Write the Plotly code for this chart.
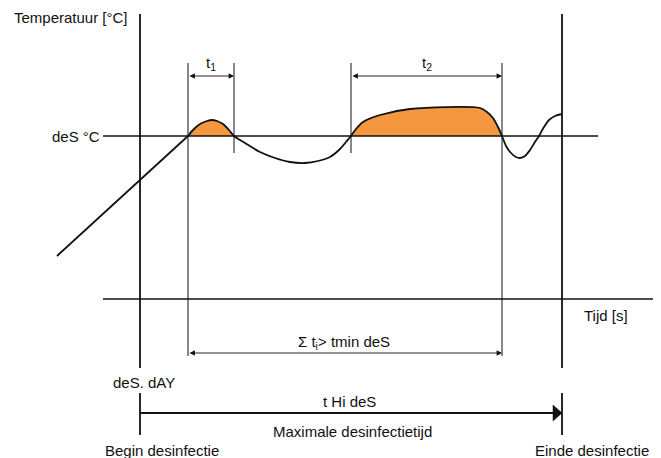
import plotly.graph_objects as go

# ---- data (time t, temperature T; schematic units) ----
ramp_t = [-83, 48]
ramp_T = [43, 163]

curve_t = [48, 53, 60, 67, 72, 77, 83, 89, 94,
           105, 120, 135, 150, 165, 178, 190, 200, 206, 211,
           216, 223, 240, 270, 340, 347, 353, 358, 362,
           366, 371, 376, 380, 385, 390, 395, 399, 404, 409, 415, 422]
curve_T = [163, 169, 175, 178, 179, 178, 175, 169, 163,
           156, 147, 141, 137, 136, 138, 142, 150, 157, 163,
           170, 177, 184, 190, 191, 187, 181, 172, 163,
           153, 146, 142, 141, 143, 149, 157, 163, 172, 179, 183, 185]

des_T = 163            # disinfection temperature level
t_begin = 0
t1_start, t1_end = 48, 94
t2_start, t2_end = 211, 362
t_end = 422

labels = {
    "temp": "Temperatuur [°C]",
    "des": "deS °C",
    "time": "Tijd [s]",
    "t1": "t<sub>1</sub>",
    "t2": "t<sub>2</sub>",
    "sum": "Σ t<sub>i</sub>> tmin deS",
    "day": "deS. dAY",
    "thi": "t Hi deS",
    "max": "Maximale desinfectietijd",
    "begin": "Begin desinfectie",
    "einde": "Einde desinfectie",
}

ORANGE = "#F4973F"
INK = "#111111"
FONT = dict(family="Liberation Sans, Arial, sans-serif", size=15, color=INK)

fig = go.Figure()

# orange areas above the disinfection level
def seg(a, b):
    i0 = curve_t.index(a)
    i1 = curve_t.index(b)
    return curve_t[i0:i1 + 1], curve_T[i0:i1 + 1]

for a, b in [(t1_start, t1_end), (t2_start, t2_end)]:
    xs, ys = seg(a, b)
    fig.add_trace(go.Scatter(x=xs, y=ys, mode="lines", fill="toself",
                             fillcolor=ORANGE, line=dict(width=0, shape="spline", smoothing=0.8),
                             hoverinfo="skip", showlegend=False))

# temperature curve
fig.add_trace(go.Scatter(x=ramp_t, y=ramp_T, mode="lines",
                         line=dict(color=INK, width=1.8), showlegend=False, hoverinfo="skip"))
fig.add_trace(go.Scatter(x=curve_t, y=curve_T, mode="lines",
                         line=dict(color=INK, width=1.8, shape="spline", smoothing=0.8),
                         showlegend=False, hoverinfo="skip"))

shapes = []
def line(x0, y0, x1, y1, w):
    shapes.append(dict(type="line", x0=x0, y0=y0, x1=x1, y1=y1, xref="x", yref="y",
                       line=dict(color=INK, width=w), layer="above"))

# axes
line(-37, des_T, 458, des_T, 1.4)       # disinfection level
line(-37, 0, 513, 0, 1.6)               # time axis
# begin / end verticals
for tv in (t_begin, t_end):
    line(tv, 285, tv, -69, 1.8)
    line(tv, -94, tv, -136, 1.8)
# interval markers
line(t1_start, 236, t1_start, -57, 1)
line(t1_end, 236, t1_end, 146, 1)
line(t2_start, 236, t2_start, 146, 1)
line(t2_end, 236, t2_end, -57, 1)
# t Hi deS arrow line + big head
line(t_begin, -114, t_end - 8, -114, 1.8)
shapes.append(dict(type="path", xref="x", yref="y",
                   path=f"M {t_end-9},{-114+8} L {t_end},{-114} L {t_end-9},{-114-8} Z",
                   fillcolor=INK, line=dict(color=INK, width=0.5)))

annotations = []
def dim(a, b, y):
    annotations.append(dict(x=b, y=y, ax=a, ay=y, xref="x", yref="y", axref="x", ayref="y",
                            text="", showarrow=True, arrowhead=2, arrowsize=1.2, arrowwidth=0.9,
                            arrowside="end+start", arrowcolor=INK, standoff=0, startstandoff=0))
dim(t1_start, t1_end, 223)
dim(t2_start, t2_end, 223)
dim(t1_start, t2_end, -54)

def txt(x, y, s, xanchor="center"):
    annotations.append(dict(x=x, y=y, xref="x", yref="y", text=s, showarrow=False,
                            xanchor=xanchor, yanchor="middle", font=FONT))

txt(-128, 282, labels["temp"], "left")
txt(-38, des_T, labels["des"], "right")
txt(442, -16, labels["time"], "left")
txt((t1_start + t1_end) / 2, 236, labels["t1"])
txt((t2_start + t2_end) / 2, 236, labels["t2"])
txt(204, -43, labels["sum"])
txt(-29, -83, labels["day"], "left")
txt(209, -102, labels["thi"])
txt(212, -132, labels["max"])
txt(22, -151, labels["begin"])
txt(452, -151, labels["einde"])

fig.update_layout(
    width=661, height=458,
    margin=dict(l=0, r=0, t=0, b=0),
    paper_bgcolor="white", plot_bgcolor="white",
    xaxis=dict(range=[-140, 521], visible=False, fixedrange=True),
    yaxis=dict(range=[-159, 299], visible=False, fixedrange=True),
    shapes=shapes, annotations=annotations, showlegend=False,
)

fig.write_html("out.html", config={"displayModeBar": False},
               post_script="document.body.style.margin='0';document.body.style.overflow='hidden';")
